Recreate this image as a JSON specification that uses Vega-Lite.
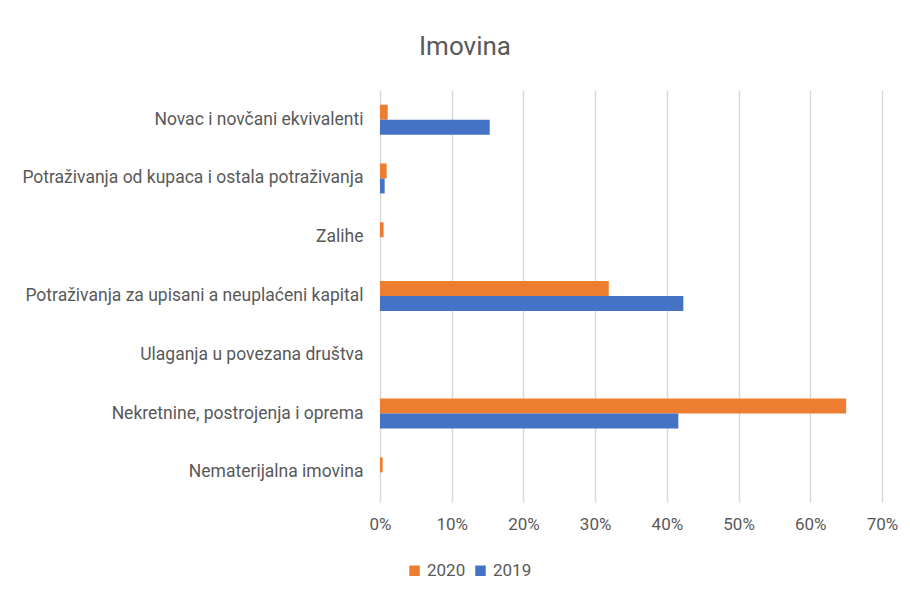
{
  "$schema": "https://vega.github.io/schema/vega-lite/v6.json",
  "autosize": {"type": "none"},
  "width": 502,
  "height": 412,
  "padding": {"left": 380, "top": 90, "right": 28, "bottom": 93},
  "background": "white",
  "title": {"text": "Imovina", "anchor": "middle", "dx": -166, "offset": 30, "fontSize": 26, "font": "Roboto", "fontWeight": "normal", "color": "#595959"},
  "data": {"values": [
    {"kategorija": "Novac i novčani ekvivalenti", "godina": "2020", "udio": 0.0107},
    {"kategorija": "Novac i novčani ekvivalenti", "godina": "2019", "udio": 0.153},
    {"kategorija": "Potraživanja od kupaca i ostala potraživanja", "godina": "2020", "udio": 0.0093},
    {"kategorija": "Potraživanja od kupaca i ostala potraživanja", "godina": "2019", "udio": 0.0065},
    {"kategorija": "Zalihe", "godina": "2020", "udio": 0.005},
    {"kategorija": "Zalihe", "godina": "2019", "udio": 0},
    {"kategorija": "Potraživanja za upisani a neuplaćeni kapital", "godina": "2020", "udio": 0.319},
    {"kategorija": "Potraživanja za upisani a neuplaćeni kapital", "godina": "2019", "udio": 0.423},
    {"kategorija": "Ulaganja u povezana društva", "godina": "2020", "udio": 0},
    {"kategorija": "Ulaganja u povezana društva", "godina": "2019", "udio": 0},
    {"kategorija": "Nekretnine, postrojenja i oprema", "godina": "2020", "udio": 0.65},
    {"kategorija": "Nekretnine, postrojenja i oprema", "godina": "2019", "udio": 0.416},
    {"kategorija": "Nematerijalna imovina", "godina": "2020", "udio": 0.0037},
    {"kategorija": "Nematerijalna imovina", "godina": "2019", "udio": 0}
  ]},
  "mark": {"type": "bar"},
  "encoding": {
    "y": {
      "field": "kategorija", "type": "nominal",
      "sort": ["Novac i novčani ekvivalenti", "Potraživanja od kupaca i ostala potraživanja", "Zalihe", "Potraživanja za upisani a neuplaćeni kapital", "Ulaganja u povezana društva", "Nekretnine, postrojenja i oprema", "Nematerijalna imovina"],
      "scale": {"paddingInner": 0.49, "paddingOuter": 0.25},
      "axis": {"title": null, "domain": false, "ticks": false, "grid": false, "labelPadding": 17, "labelFont": "Roboto", "labelFontSize": 17.5, "labelColor": "#595959", "labelLimit": 400}
    },
    "yOffset": {"field": "godina", "type": "nominal", "sort": ["2020", "2019"]},
    "x": {
      "field": "udio", "type": "quantitative",
      "scale": {"domain": [0, 0.7], "nice": false},
      "axis": {"title": null, "format": ".0%", "values": [0, 0.1, 0.2, 0.3, 0.4, 0.5, 0.6, 0.7], "domain": false, "ticks": false, "grid": true, "gridColor": "#d9d9d9", "gridWidth": 1.5, "labelFlush": false, "labelPadding": 14, "labelFont": "Roboto", "labelFontSize": 17, "labelColor": "#595959"}
    },
    "color": {
      "field": "godina", "type": "nominal",
      "scale": {"domain": ["2020", "2019"], "range": ["#ED7D31", "#4472C4"]},
      "legend": {"title": null, "orient": "none", "direction": "horizontal", "legendX": 26, "legendY": 472, "symbolType": "square", "symbolSize": 110, "symbolStrokeWidth": 0, "labelFont": "Roboto", "labelFontSize": 17, "labelColor": "#595959", "columnPadding": 6, "labelOffset": 4}
    }
  },
  "config": {"view": {"stroke": null}}
}
